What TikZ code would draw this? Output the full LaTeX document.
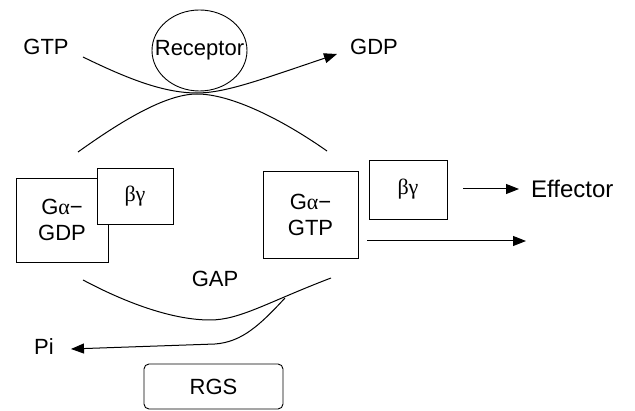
\documentclass[tikz,border=0pt]{standalone}
\usepackage{fontspec}
\setmainfont{Liberation Sans}
\newfontfamily\grk{Liberation Serif}
\usetikzlibrary{arrows.meta,shapes.geometric}
\begin{document}
\begin{tikzpicture}[x=1pt,y=-1pt,
  every node/.style={font=\fontsize{22}{26}\selectfont, inner sep=0pt},
  conn/.style={line width=1pt},
  arr/.style={conn,-{Triangle[length=13pt,width=10pt]}},
  gbox/.style={draw, line width=0.9pt, fill=white, align=center},
]
\useasboundingbox[fill=white] (0,0) rectangle (635,411);

% nodes
\node[ellipse, draw, line width=0.9pt, minimum width=95pt, minimum height=81pt] (rec) at (199.5,50.5) {};
\node (rect) at (rec.center) {Receptor};
\node[anchor=base] (gtp) at (46,55) {GTP};
\node[anchor=base] (gdp) at (374,55) {GDP};
\node[gbox, minimum width=92pt, minimum height=84pt] (gagdp) at (62,220) {G{\grk α}−\\GDP};
\node[gbox, minimum width=76pt, minimum height=56pt] (bg1) at (135,196) {{\grk βγ}};
\node[gbox, minimum width=95pt, minimum height=87pt] (gagtp) at (310.5,214.5) {G{\grk α}−\\GTP};
\node[gbox, minimum width=78pt, minimum height=59pt] (bg2) at (408,189.5) {{\grk βγ}};
\node[anchor=base west, font=\fontsize{24}{28}\selectfont] (eff) at (531,198) {Effector};
\node[anchor=base] (gap) at (215,287) {GAP};
\node[anchor=base] (pi) at (44,355) {Pi};
\node[draw, line width=0.9pt, rounded corners=5pt, minimum width=139pt, minimum height=45pt] (rgs) at (213.5,386.5) {RGS};

% coordinates for free ends
\coordinate (gtpS) at (83,57);
\coordinate (kiss) at (197,93);
\coordinate (gdpE) at (337,54);
\coordinate (archL) at (78,152);
\coordinate (archT) at (197,94);
\coordinate (archR) at (327,151);
\coordinate (effS) at (463,189);
\coordinate (effE) at (519,189);
\coordinate (lowS) at (367,241);
\coordinate (lowE) at (526,241);
\coordinate (gapL) at (83,280);
\coordinate (gapB) at (210,320);
\coordinate (gapR) at (331,278);
\coordinate (br) at (285,298);
\coordinate (brK) at (215,344);
\coordinate (piE) at (71,349);

% top: GTP -> GDP past the receptor
\draw[arr] (gtpS) .. controls (130,80) and (165,93) .. (kiss)
  .. controls (225,93) and (260,80) .. (gdpE);
% arch from Galpha-GDP to Galpha-GTP
\draw[conn] (archL) .. controls (120,122) and (165,94) .. (archT)
  .. controls (230,94) and (280,118) .. (archR);
% effector arrows
\draw[arr] (effS) -- (effE);
\draw[arr] (lowS) -- (lowE);
% GAP curve
\draw[conn] (gapL) .. controls (130,305) and (175,320) .. (gapB)
  .. controls (240,320) and (268,302) .. (gapR);
% Pi branch
\draw[arr] (br) .. controls (260,325) and (242,342) .. (brK) -- (piE);
\end{tikzpicture}
\end{document}
